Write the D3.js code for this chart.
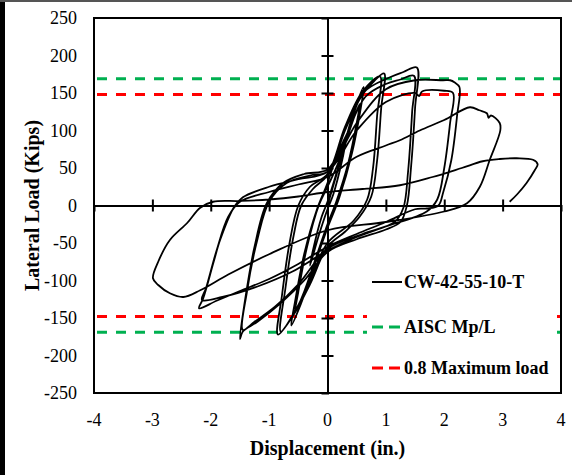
<!DOCTYPE html>
<html><head><meta charset="utf-8">
<script src="https://cdn.jsdelivr.net/npm/d3@7"></script>
<style>body{margin:0;background:#fff}svg{display:block}</style>
</head><body>
<script>
// ---- data (displacement in., lateral load kips) ----
const xTicks = [-4,-3,-2,-1,0,1,2,3,4];
const yTicks = [-250,-200,-150,-100,-50,0,50,100,150,200,250];
const aiscMpL = 169;      // AISC Mp/L
const maxLoad08 = 148;    // 0.8 maximum load
const start = [[0,0]];
const cycle1 = [[0.15,40],[0.3,80],[0.25,60],[0.1,15],[0,-5],[-0.15,-40],[-0.3,-80],[-0.25,-60],[-0.1,-15],[0,5]];
const cycle2 = [[0.2,55],[0.4,105],[0.55,135],[0.5,110],[0.35,55],[0.15,5],[0,-25],[-0.2,-70],[-0.4,-115],[-0.55,-140],[-0.5,-115],[-0.35,-55],[-0.15,0],[0,25]];
const cycle2b = [[0.2,60],[0.45,125],[0.62,158],[0.57,130],[0.42,70],[0.2,10],[0,-30],[-0.25,-85],[-0.45,-130],[-0.62,-160],[-0.56,-130],[-0.4,-65],[-0.18,-5],[0,30]];
const cycle3 = [[0.3,100],[0.6,148],[0.8,166],[0.97,176],[0.92,130],[0.85,60],[0.75,12],[0.55,-15],[0.3,-35],[0,-55],[-0.3,-105],[-0.6,-148],[-0.85,-172],[-0.78,-120],[-0.65,-50],[-0.5,0],[-0.3,25],[0,42]];
const cycle3b = [[0.3,105],[0.6,152],[0.9,172],[0.85,120],[0.78,50],[0.68,8],[0.45,-20],[0,-50],[-0.3,-100],[-0.55,-140],[-0.8,-168],[-0.72,-110],[-0.58,-40],[-0.45,0],[-0.25,22],[0,40]];
const cycle4 = [[0.3,85],[0.61,150],[1.07,171],[1.3,178],[1.53,184],[1.5,130],[1.43,50],[1.36,0],[1.25,-22],[1.0,-32],[0.5,-45],[0,-62],[-0.4,-100],[-0.8,-130],[-1.2,-155],[-1.45,-168],[-1.5,-178],[-1.42,-130],[-1.25,-55],[-1.04,3],[-0.76,30],[-0.4,42],[0,48]];
const cycle4b = [[0.3,90],[0.65,145],[1.0,162],[1.25,168],[1.48,173],[1.45,125],[1.38,45],[1.3,-3],[1.15,-22],[0.6,-38],[0,-58],[-0.5,-105],[-0.9,-135],[-1.25,-155],[-1.45,-166],[-1.38,-115],[-1.2,-45],[-1.0,5],[-0.7,30],[-0.3,40],[0,45]];
const cycle5 = [[0.5,110],[1.0,155],[1.5,167],[1.98,167],[2.1,167],[2.18,164],[2.26,158],[2.22,120],[2.12,60],[1.98,17],[1.9,0],[1.7,-4],[1.5,-5],[1.0,-22],[0.5,-38],[0,-55],[-0.5,-78],[-1.0,-98],[-1.5,-114],[-1.9,-127],[-2.2,-137],[-2.13,-124],[-1.95,-75],[-1.84,-46],[-1.6,-2],[-1.45,11],[-1.0,25],[-0.5,35],[0,45]];
const cycle5b = [[0.5,100],[1.0,138],[1.5,150],[1.57,146],[1.62,152],[2.0,153],[2.15,150],[2.1,110],[2.0,50],[1.88,8],[1.7,-8],[1.0,-28],[0.5,-42],[0,-60],[-0.6,-88],[-1.2,-108],[-1.8,-122],[-2.15,-126],[-2.08,-110],[-1.9,-60],[-1.7,-15],[-1.5,5],[-1.0,18],[-0.5,28],[0,38]];
const cycle6 = [[0.5,65],[1.0,80],[1.24,87],[1.58,100],[2.0,114],[2.44,131],[2.6,127],[2.73,123],[2.76,117],[2.8,120],[2.95,110],[2.96,100],[2.78,61],[2.61,25],[2.39,3],[2.0,-8],[1.0,-22],[0,-33],[-1.0,-65],[-1.7,-92],[-2.18,-113],[-2.47,-122],[-2.7,-117],[-2.9,-106],[-2.99,-97],[-2.9,-75],[-2.7,-46],[-2.4,-23],[-2.18,-3],[-1.96,5],[-1.5,6],[-1.0,8],[-0.5,12],[0,18]];
const cycle7 = [[0.6,22],[1.24,27],[1.8,38],[2.3,50],[2.66,59],[2.95,62],[3.24,63],[3.52,61],[3.6,55],[3.55,47],[3.41,30],[3.25,15],[3.12,5]];
const legendLabels = ["CW-42-55-10-T","AISC Mp/L","0.8 Maximum load"];

const W = 572, H = 475;
const svg = d3.select("body").append("svg").attr("width",W).attr("height",H);
const serif = "'Liberation Serif','Times New Roman',serif";

const x = d3.scaleLinear().domain([-4,4]).range([94,561]);
const y = d3.scaleLinear().domain([-250,250]).range([393,18]);

// outer image edges
svg.append("rect").attr("x",0).attr("y",0).attr("width",W).attr("height",H).attr("fill","#fff");
svg.append("rect").attr("x",0).attr("y",0).attr("width",5).attr("height",H).attr("fill","#000");
svg.append("rect").attr("x",0).attr("y",0).attr("width",W).attr("height",2).attr("fill","#555");

// dashed reference lines
const refs = [{v:aiscMpL,c:"#00b050"},{v:-aiscMpL,c:"#00b050"},{v:maxLoad08,c:"#ff0000"},{v:-maxLoad08,c:"#ff0000"}];
svg.selectAll("line.ref").data(refs).enter().append("line")
  .attr("x1",x(-4)+3).attr("x2",x(4)).attr("y1",d=>y(d.v)).attr("y2",d=>y(d.v))
  .attr("stroke",d=>d.c).attr("stroke-width",3).attr("stroke-dasharray","10,9");

// hysteresis curve
const pts = [].concat(start,cycle1,cycle2,cycle2b,cycle3,cycle3b,cycle4,cycle4b,cycle5,cycle5b,cycle6,cycle7);
const line = d3.line().x(d=>x(d[0])).y(d=>y(d[1])).curve(d3.curveCatmullRom.alpha(0.5));
svg.append("path").attr("d",line(pts)).attr("fill","none").attr("stroke","#000").attr("stroke-width",1.8).attr("stroke-linejoin","round");

// zero axes with cross ticks
const gx = svg.append("g").attr("transform",`translate(0,${y(0)})`)
  .call(d3.axisBottom(x).tickValues(xTicks.filter(t=>t>-4&&t<4)).tickSize(6).tickFormat(""));
gx.selectAll(".tick line").attr("y1",-6).attr("y2",6).attr("stroke-width",2);
gx.select(".domain").attr("stroke-width",2);
const gy = svg.append("g").attr("transform",`translate(${x(0)},0)`)
  .call(d3.axisLeft(y).tickValues(yTicks.filter(t=>t>-250&&t<250)).tickSize(6).tickFormat(""));
gy.selectAll(".tick line").attr("x1",-6).attr("x2",6).attr("stroke-width",2);
gy.select(".domain").attr("stroke-width",2);

// frame
svg.append("rect").attr("x",x(-4)).attr("y",y(250)).attr("width",x(4)-x(-4)).attr("height",y(-250)-y(250))
  .attr("fill","none").attr("stroke","#000").attr("stroke-width",2);

// tick labels
svg.selectAll("text.yt").data(yTicks).enter().append("text")
  .attr("x",77).attr("y",d=>y(d)).attr("dy","0.35em").attr("text-anchor","end")
  .attr("font-family",serif).attr("font-size",18).text(d=>d);
svg.selectAll("text.xt").data(xTicks).enter().append("text")
  .attr("x",d=>x(d)).attr("y",426).attr("text-anchor","middle")
  .attr("font-family",serif).attr("font-size",18).text(d=>d);

// axis titles
svg.append("text").attr("x",x(0)).attr("y",455).attr("text-anchor","middle")
  .attr("font-family",serif).attr("font-weight","bold").attr("font-size",20).text("Displacement (in.)");
svg.append("text").attr("transform",`translate(39,${y(0)}) rotate(-90)`).attr("text-anchor","middle")
  .attr("font-family",serif).attr("font-weight","bold").attr("font-size",20).text("Lateral Load (Kips)");

// legend
const lg = svg.append("g");
lg.append("rect").attr("x",367).attr("y",262).attr("width",190).attr("height",126).attr("fill","#fff");
const items = [{c:"#000",dash:null,yy:282},{c:"#00b050",dash:"11,6",yy:327},{c:"#ff0000",dash:"11,6",yy:368}];
items.forEach((it,i)=>{
  lg.append("line").attr("x1",372).attr("x2",402).attr("y1",it.yy).attr("y2",it.yy)
    .attr("stroke",it.c).attr("stroke-width",it.dash?3:2).attr("stroke-dasharray",it.dash);
  lg.append("text").attr("x",404).attr("y",it.yy).attr("dy","0.35em")
    .attr("font-family",serif).attr("font-weight","bold").attr("font-size",18).text(legendLabels[i]);
});
</script>
</body></html>
